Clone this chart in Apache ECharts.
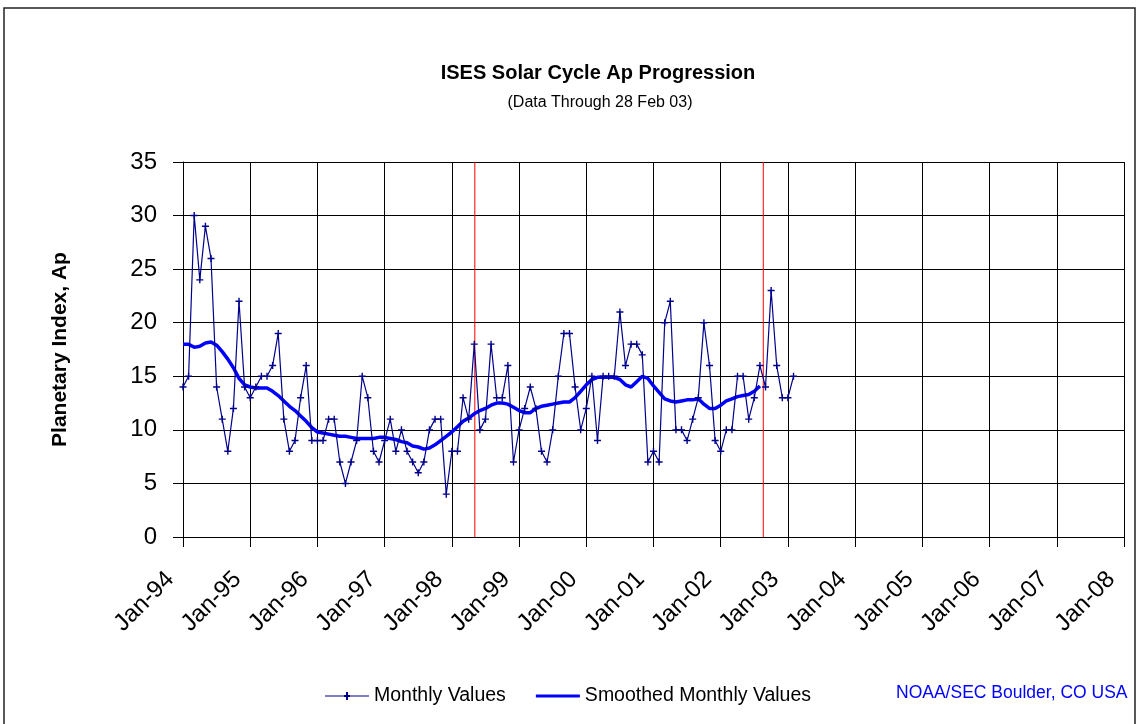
<!DOCTYPE html>
<html>
<head>
<meta charset="utf-8">
<script src="https://cdn.jsdelivr.net/npm/echarts@6/dist/echarts.min.js"></script>
<style>
html,body{margin:0;padding:0;background:#fff;}
#chart{width:1138px;height:724px;}
</style>
</head>
<body>
<div id="chart"></div>
<script>
// Month index 0 = Jan-94
var xTickLabels = ['Jan-94','Jan-95','Jan-96','Jan-97','Jan-98','Jan-99','Jan-00','Jan-01','Jan-02','Jan-03','Jan-04','Jan-05','Jan-06','Jan-07','Jan-08'];
var yTicks = [0, 5, 10, 15, 20, 25, 30, 35];

// Monthly Ap values, Jan-94 .. Feb-03
var monthlyValues = [
  14, 15, 30, 24, 29, 26, 14, 11, 8, 12, 22, 14,
  13, 14, 15, 15, 16, 19, 11, 8, 9, 13, 16, 9,
  9, 9, 11, 11, 7, 5, 7, 9, 15, 13, 8, 7,
  9, 11, 8, 10, 8, 7, 6, 7, 10, 11, 11, 4,
  8, 8, 13, 11, 18, 10, 11, 18, 13, 13, 16, 7,
  10, 12, 14, 12, 8, 7, 10, 15, 19, 19, 14, 10,
  12, 15, 9, 15, 15, 15, 21, 16, 18, 18, 17, 7,
  8, 7, 20, 22, 10, 10, 9, 11, 13, 20, 16, 9,
  8, 10, 10, 15, 15, 11, 13, 16, 14, 23, 16, 13,
  13, 15
];

// Smoothed monthly values, Jan-94 .. Aug-02
var smoothedValues = [
  18.0, 18.0, 17.7, 17.8, 18.1, 18.2, 17.9, 17.3, 16.6, 15.8, 14.8, 14.2,
  14.0, 13.9, 13.9, 13.9, 13.6, 13.2, 12.7, 12.2, 11.8, 11.3, 10.8, 10.2,
  9.8, 9.7, 9.6, 9.5, 9.4, 9.4, 9.3, 9.2, 9.2, 9.2, 9.2, 9.3,
  9.3, 9.2, 9.1, 8.9, 8.8, 8.5, 8.4, 8.2, 8.3, 8.6, 9.0, 9.4,
  9.8, 10.3, 10.8, 11.1, 11.5, 11.8, 12.0, 12.3, 12.5, 12.5, 12.4, 12.1,
  11.8, 11.6, 11.6, 12.0, 12.2, 12.3, 12.4, 12.5, 12.6, 12.6, 13.0, 13.6,
  14.2, 14.7, 14.9, 14.9, 14.9, 14.9, 14.7, 14.2, 14.0, 14.5, 15.0, 14.8,
  14.1, 13.5, 12.9, 12.7, 12.6, 12.7, 12.8, 12.8, 12.9, 12.4, 12.0, 12.0,
  12.3, 12.7, 12.9, 13.1, 13.2, 13.3, 13.6, 14.1
];

// Red vertical markers (month index since Jan-94)
var redMarkers = [52.1, 103.6];

var FONT = '"Liberation Sans", Arial, sans-serif';
var yMin = yTicks[0], yMax = yTicks[yTicks.length - 1];

var monthlyData = monthlyValues.map(function (v, i) { return [i, v]; });
var smoothedData = smoothedValues.map(function (v, i) { return [i, v]; });

var redSeries = redMarkers.map(function (m, k) {
  return {
    name: 'marker' + k, type: 'line', data: [[m, yMin], [m, yMax]],
    symbol: 'none', showSymbol: false, silent: true,
    lineStyle: {color: '#ff0000', width: 1},
    itemStyle: {color: '#ff0000'},
    emphasis: {disabled: true},
    z: 1
  };
});

var chart = echarts.init(document.getElementById('chart'), null, {renderer: 'canvas'});
chart.setOption({
  backgroundColor: '#ffffff',
  animation: false,
  title: [
    {text: 'ISES Solar Cycle Ap Progression', left: 593, top: 58, textAlign: 'center',
     textStyle: {fontFamily: FONT, fontSize: 20, fontWeight: 'bold', color: '#000'}},
    {text: '(Data Through 28 Feb 03)', left: 595, top: 90, textAlign: 'center',
     textStyle: {fontFamily: FONT, fontSize: 16, fontWeight: 'normal', color: '#000'}}
  ],
  legend: {
    left: 320, top: 681, itemWidth: 44, itemHeight: 10, itemGap: 30,
    textStyle: {fontFamily: FONT, fontSize: 19.5, color: '#000'},
    data: [
      {name: 'Monthly Values',
       icon: 'path://M0,4.5H44V5.5H0Z M21,1H23V9H21Z M19,4H25V6H19Z'},
      {name: 'Smoothed Monthly Values',
       icon: 'path://M0,0L0.01,0L0,0Z M0,10L0.01,10L0,10Z M0,3.5H44V6.5H0Z'}
    ]
  },
  grid: {left: 183, right: 14, top: 162, bottom: 187, containLabel: false},
  xAxis: {
    type: 'value', min: 0, max: 168, interval: 12,
    axisLine: {show: true, onZero: false, lineStyle: {color: '#000', width: 1}},
    axisTick: {show: true, length: 10, lineStyle: {color: '#000'}},
    splitLine: {show: true, lineStyle: {color: '#000', width: 1}},
    axisLabel: {
      rotate: 45, margin: 26, padding: [0, 18, 0, 0], fontFamily: FONT, fontSize: 24, color: '#000',
      formatter: function (v) { return xTickLabels[Math.round(v / 12)] || ''; }
    }
  },
  yAxis: {
    type: 'value', min: yMin, max: yMax, interval: 5,
    name: 'Planetary Index, Ap', nameLocation: 'middle', nameGap: 112, nameRotate: 90,
    nameTextStyle: {fontFamily: FONT, fontSize: 21, fontWeight: 'bold', color: '#000'},
    axisLine: {show: true, lineStyle: {color: '#000', width: 1}},
    axisTick: {show: true, length: 10, lineStyle: {color: '#000'}},
    splitLine: {show: true, lineStyle: {color: '#000', width: 1}},
    axisLabel: {margin: 26, fontFamily: FONT, fontSize: 24, color: '#000'}
  },
  graphic: [
    {type: 'rect', silent: true, shape: {x: 4, y: 8, width: 1131, height: 740},
     style: {fill: 'none', stroke: '#222', lineWidth: 1.5}},
    {type: 'text', left: 896, top: 684,
     style: {text: 'NOAA/SEC Boulder, CO USA', fill: '#0000ff', font: '17.5px ' + FONT}}
  ],
  series: [
    {
      name: 'Monthly Values', type: 'line', data: monthlyData,
      symbol: 'path://M4,0H6V4H10V6H6V10H4V6H0V4H4Z', symbolSize: 7, showSymbol: true,
      lineStyle: {color: '#00008b', width: 1.2},
      itemStyle: {color: '#00008b'},
      emphasis: {disabled: true},
      z: 3
    },
    {
      name: 'Smoothed Monthly Values', type: 'line', data: smoothedData,
      symbol: 'none', showSymbol: false,
      lineStyle: {color: '#0000ff', width: 3.5},
      itemStyle: {color: '#0000ff'},
      emphasis: {disabled: true},
      z: 2
    }
  ].concat(redSeries)
});
</script>
</body>
</html>
